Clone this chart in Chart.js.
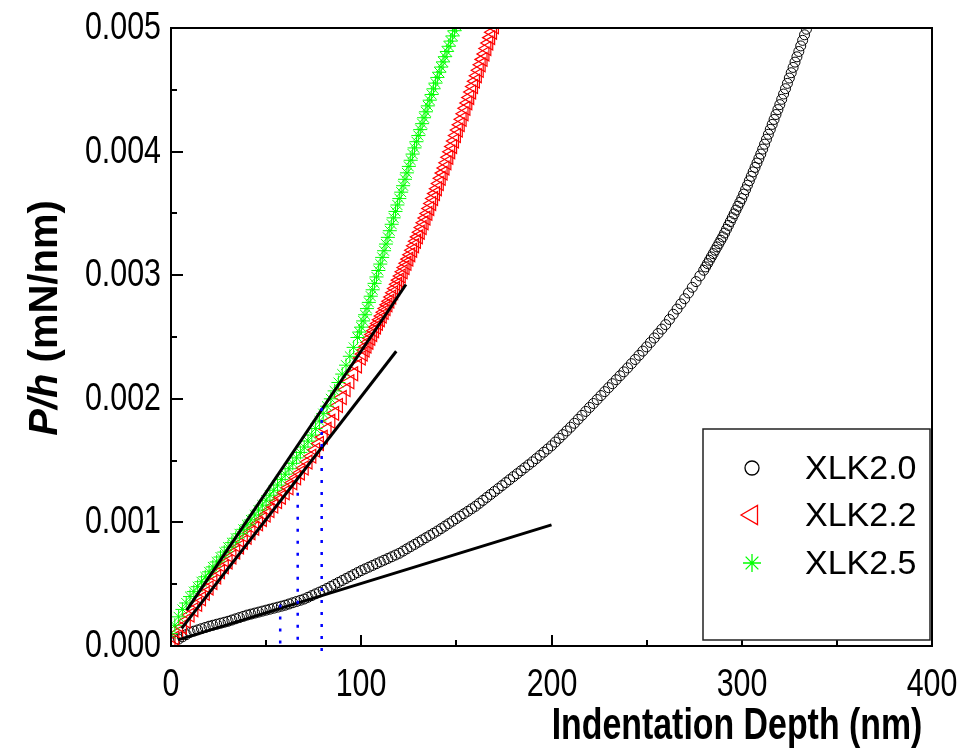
<!DOCTYPE html>
<html>
<head>
<meta charset="utf-8">
<script src="https://cdn.jsdelivr.net/npm/chart.js@4/dist/chart.umd.min.js"></script>
<style>
html,body{margin:0;padding:0;background:#fff;}
#wrap{width:965px;height:753px;position:relative;}
canvas{display:block;}
</style>
</head>
<body>
<div id="wrap"><canvas id="c" width="965" height="753"></canvas></div>
<script>
// ---------------- DATA ----------------
const seriesLabels = ['XLK2.0', 'XLK2.2', 'XLK2.5'];

// XLK2.0 : indentation depth (nm) and P/h (mN/nm)
const depthXLK20 = [2,4,6,8,10,12,14,16,18,20,22,24,26,28,30,32,34,36,38,40,42,44,46,48,50,52,54,56,58,60,62,64,66,68,70,72,74,76,78,80,82,84,86,88,90,92,94,96,98,100,102,104,106,108,110,112,114,116,118,120,122,124,126,128,130,132,134,136,138,140,142,144,146,148,150,152,154,156,158,160,162,164,166,168,170,172,174,176,178,180,182,184,186,188,190,192,194,196,198,200,202,204,206,208,210,212,214,216,218,220,222,224,226,228,230,232,234,236,238,240,242,244,246,248,250,252,254,256,258,260,262,264,266,268,270,272,274,276,278,280,281,282,283,284,285,286,287,288,289,290,291,292,293,294,295,296,297,298,299,300,301,302,303,304,305,306,307,308,309,310,311,312,313,314,315,316,317,318,319,320,321,322,323,324,325,326,327,328,329,330,331,332,333,334];
const phXLK20 = [0.000038,0.000056,0.000074,0.000092,0.000110,0.000120,0.000130,0.000140,0.000150,0.000160,0.000168,0.000176,0.000184,0.000192,0.000200,0.000210,0.000220,0.000230,0.000240,0.000250,0.000258,0.000266,0.000274,0.000282,0.000290,0.000298,0.000306,0.000314,0.000322,0.000330,0.000340,0.000350,0.000360,0.000370,0.000380,0.000394,0.000408,0.000422,0.000436,0.000450,0.000466,0.000482,0.000498,0.000514,0.000530,0.000546,0.000562,0.000578,0.000594,0.000610,0.000624,0.000638,0.000652,0.000666,0.000680,0.000694,0.000708,0.000722,0.000736,0.000750,0.000768,0.000786,0.000804,0.000822,0.000840,0.000858,0.000876,0.000894,0.000912,0.000930,0.000950,0.000970,0.000990,0.001010,0.001030,0.001050,0.001070,0.001090,0.001110,0.001130,0.001154,0.001178,0.001202,0.001226,0.001250,0.001274,0.001298,0.001322,0.001346,0.001370,0.001394,0.001418,0.001442,0.001466,0.001490,0.001516,0.001542,0.001568,0.001594,0.001620,0.001650,0.001680,0.001710,0.001740,0.001770,0.001802,0.001834,0.001866,0.001898,0.001930,0.001962,0.001994,0.002026,0.002058,0.002090,0.002122,0.002154,0.002186,0.002218,0.002250,0.002284,0.002318,0.002352,0.002386,0.002420,0.002456,0.002492,0.002528,0.002564,0.002600,0.002642,0.002684,0.002726,0.002768,0.002810,0.002856,0.002902,0.002948,0.002994,0.003040,0.003067,0.003094,0.003121,0.003148,0.003175,0.003202,0.003229,0.003256,0.003283,0.003310,0.003341,0.003372,0.003403,0.003434,0.003465,0.003496,0.003527,0.003558,0.003589,0.003620,0.003656,0.003692,0.003728,0.003764,0.003800,0.003836,0.003872,0.003908,0.003944,0.003980,0.004020,0.004060,0.004100,0.004140,0.004180,0.004220,0.004260,0.004300,0.004340,0.004380,0.004423,0.004466,0.004509,0.004552,0.004595,0.004638,0.004681,0.004724,0.004767,0.004810,0.004855,0.004900,0.004945,0.004990];

// XLK2.2
const depthXLK22 = [0,2,4,6,8,10,12,14,16,18,20,22,24,26,28,30,32,34,36,38,40,42,44,46,48,50,52,54,56,58,60,62,64,66,68,70,72,74,76,78,80,82,84,86,88,90,92,94,96,98,100,101,102,103,104,105,106,107,108,109,110,111,112,113,114,115,116,117,118,119,120,121,122,123,124,125,126,127,128,129,130,131,132,133,134,135,136,137,138,139,140,141,142,143,144,145,146,147,148,149,150,151,152,153,154,155,156,157,158,159,160,161,162,163,164,165,166,167,168,169,170];
const phXLK22 = [0.000020,0.000064,0.000108,0.000154,0.000202,0.000250,0.000294,0.000338,0.000382,0.000426,0.000470,0.000514,0.000558,0.000600,0.000640,0.000680,0.000720,0.000760,0.000800,0.000840,0.000880,0.000916,0.000952,0.000988,0.001024,0.001060,0.001096,0.001132,0.001168,0.001204,0.001240,0.001280,0.001320,0.001360,0.001400,0.001440,0.001488,0.001536,0.001586,0.001638,0.001690,0.001754,0.001818,0.001882,0.001946,0.002010,0.002074,0.002138,0.002202,0.002266,0.002330,0.002362,0.002394,0.002426,0.002458,0.002490,0.002520,0.002550,0.002580,0.002610,0.002640,0.002670,0.002700,0.002730,0.002760,0.002790,0.002824,0.002858,0.002892,0.002926,0.002960,0.002994,0.003028,0.003062,0.003096,0.003130,0.003166,0.003202,0.003238,0.003274,0.003310,0.003348,0.003386,0.003424,0.003462,0.003500,0.003540,0.003580,0.003620,0.003660,0.003700,0.003742,0.003784,0.003826,0.003868,0.003910,0.003954,0.003998,0.004042,0.004086,0.004130,0.004174,0.004218,0.004262,0.004306,0.004350,0.004394,0.004438,0.004482,0.004526,0.004570,0.004614,0.004658,0.004702,0.004746,0.004790,0.004834,0.004878,0.004922,0.004966,0.005010];

// XLK2.5
const depthXLK25 = [0,2,4,6,8,10,12,14,16,18,20,22,24,26,28,30,32,34,36,38,40,42,44,46,48,50,52,54,56,58,60,62,64,66,68,70,72,74,76,78,80,82,84,86,88,90,92,94,96,98,99,100,101,102,103,104,105,106,107,108,109,110,111,112,113,114,115,116,117,118,119,120,121,122,123,124,125,126,127,128,129,130,131,132,133,134,135,136,137,138,139,140,141,142,143,144,145,146,147,148,149,150];
const phXLK25 = [0.000100,0.000168,0.000236,0.000296,0.000348,0.000400,0.000440,0.000480,0.000520,0.000560,0.000600,0.000640,0.000680,0.000720,0.000760,0.000800,0.000836,0.000872,0.000908,0.000944,0.000980,0.001020,0.001060,0.001100,0.001140,0.001180,0.001220,0.001260,0.001302,0.001346,0.001390,0.001434,0.001478,0.001522,0.001566,0.001610,0.001658,0.001706,0.001760,0.001820,0.001880,0.001940,0.002000,0.002064,0.002132,0.002200,0.002272,0.002344,0.002416,0.002496,0.002540,0.002580,0.002630,0.002680,0.002730,0.002780,0.002830,0.002882,0.002934,0.002986,0.003038,0.003090,0.003144,0.003198,0.003252,0.003306,0.003360,0.003412,0.003464,0.003516,0.003568,0.003620,0.003672,0.003724,0.003776,0.003828,0.003880,0.003930,0.003980,0.004030,0.004080,0.004130,0.004178,0.004226,0.004274,0.004322,0.004370,0.004416,0.004462,0.004508,0.004554,0.004600,0.004642,0.004684,0.004726,0.004768,0.004810,0.004852,0.004894,0.004936,0.004978,0.005020];

// straight fit lines (end points)
const fitDepthXLK25 = [8.3, 123.5];
const fitPhXLK25 = [0.000290, 0.002925];
const fitDepthXLK22 = [5.6, 118.4];
const fitPhXLK22 = [0.000143, 0.002385];
const fitDepthXLK20 = [3.7, 200];
const fitPhXLK20 = [0.000050, 0.000980];

// dotted vertical markers
const markerDepths = [57.4, 66.6, 79.2];
const markerTop = [0.00036, 0.00130, 0.00195];
const markerBottom = [0.00002, 0.00005, -0.00004];

// axes
const xTickLabels = ['0', '100', '200', '300', '400'];
const yTickLabels = ['0.000', '0.001', '0.002', '0.003', '0.004', '0.005'];
const xTitle = 'Indentation Depth (nm)';
const yTitleItalic = 'P/h';
const yTitleRest = ' (mN/nm)';

// ---------------- CHART ----------------
const SANS = "'Liberation Sans', Arial, Helvetica, sans-serif";
const NARROW_X = 0.8;   // horizontal squeeze of the axis lettering in the reference

const pts = (xs, ys) => xs.map((v, i) => ({x: v, y: ys[i]}));

const datasets = [
  {label: seriesLabels[0], data: pts(depthXLK20, phXLK20), pointStyle: 'circle', pointRadius: 5,
   borderColor: '#000000', backgroundColor: 'rgba(255,255,255,0)', pointBorderWidth: 1, showLine: false, order: 5},
  {label: seriesLabels[1], data: pts(depthXLK22, phXLK22), pointStyle: 'triangle', pointRotation: -90, pointRadius: 8,
   borderColor: '#ff0000', backgroundColor: 'rgba(255,255,255,0)', pointBorderWidth: 1.2, showLine: false, order: 4},
  {label: seriesLabels[2], data: pts(depthXLK25, phXLK25), pointStyle: 'star', pointRadius: 7,
   borderColor: '#00ff00', backgroundColor: '#00ff00', pointBorderWidth: 1, showLine: false, order: 3},
  {label: 'fit25', data: pts(fitDepthXLK25, fitPhXLK25), showLine: true, pointRadius: 0, borderColor: '#000', borderWidth: 3, order: 1},
  {label: 'fit22', data: pts(fitDepthXLK22, fitPhXLK22), showLine: true, pointRadius: 0, borderColor: '#000', borderWidth: 3, order: 1},
  {label: 'fit20', data: pts(fitDepthXLK20, fitPhXLK20), showLine: true, pointRadius: 0, borderColor: '#000', borderWidth: 3, order: 1}
];
markerDepths.forEach((d, i) => {
  datasets.push({label: 'hc' + i, data: [{x: d, y: markerBottom[i]}, {x: d, y: markerTop[i]}], showLine: true,
    pointRadius: 0, borderColor: '#0000ff', borderWidth: 2.5, borderDash: [3, 9], clip: false, order: 0});
});

function isMajor(v, step) { return Math.abs(v / step - Math.round(v / step)) < 1e-6; }

function squeezedText(ctx, text, x, y, align) {
  ctx.save();
  ctx.translate(x, y);
  ctx.scale(NARROW_X, 1);
  ctx.textAlign = align;
  ctx.fillText(text, 0, 0);
  ctx.restore();
}

const framePlugin = {
  id: 'frame',
  afterDraw(chart) {
    const {ctx, chartArea: {left, right, top, bottom}, scales: {x, y}} = chart;
    ctx.save();
    ctx.strokeStyle = '#000';
    ctx.lineWidth = 2;
    ctx.strokeRect(left, top, right - left, bottom - top);

    // inward ticks + tick labels, positioned by the chart's own scales
    ctx.fillStyle = '#000';
    ctx.font = '38px ' + SANS;
    ctx.textBaseline = 'middle';
    x.ticks.forEach(t => {
      const px = Math.round(x.getPixelForValue(t.value));
      const major = isMajor(t.value, 100);
      ctx.beginPath(); ctx.moveTo(px, bottom); ctx.lineTo(px, bottom - (major ? 11 : 6)); ctx.stroke();
      if (major) squeezedText(ctx, xTickLabels[Math.round(t.value / 100)], px, bottom + 40, 'center');
    });
    y.ticks.forEach(t => {
      const py = Math.round(y.getPixelForValue(t.value));
      const major = isMajor(t.value, 0.001);
      ctx.beginPath(); ctx.moveTo(left, py); ctx.lineTo(left + (major ? 12 : 6), py); ctx.stroke();
      if (major) squeezedText(ctx, yTickLabels[Math.round(t.value / 0.001)], left - 10, py + 1, 'right');
    });

    // legend
    const lx = 703, ly = 429, lw = 227, lh = 211;
    ctx.fillStyle = '#fff';
    ctx.fillRect(lx, ly, lw, lh);
    ctx.lineWidth = 1.5;
    ctx.strokeStyle = '#222';
    ctx.strokeRect(lx, ly, lw, lh);
    const rows = [468, 515, 563];
    const symR = [7, 11, 9];
    chart.data.datasets.slice(0, 3).forEach((ds, i) => {
      const opts = {pointStyle: ds.pointStyle, radius: symR[i], rotation: ds.pointRotation || 0, borderWidth: 1.3};
      ctx.save();
      ctx.strokeStyle = ds.borderColor;
      ctx.fillStyle = 'rgba(255,255,255,0)';
      ctx.lineWidth = 1.3;
      Chart.helpers.drawPoint(ctx, opts, 752, rows[i]);
      ctx.restore();
      ctx.fillStyle = '#000';
      ctx.font = '34px ' + SANS;
      ctx.textAlign = 'left';
      ctx.textBaseline = 'middle';
      ctx.fillText(ds.label, 805, rows[i] + 2);
    });

    // axis titles
    ctx.fillStyle = '#000';
    ctx.font = 'bold 44px ' + SANS;
    ctx.textBaseline = 'middle';
    ctx.save();
    ctx.translate(737, 727);
    ctx.scale(0.77, 1);
    ctx.textAlign = 'center';
    ctx.fillText(xTitle, 0, 0);
    ctx.restore();

    ctx.save();
    ctx.translate(46, 318);
    ctx.rotate(-Math.PI / 2);
    const f1 = 'italic bold 40px ' + SANS, f2 = 'bold 40px ' + SANS;
    ctx.font = f1; const w1 = ctx.measureText(yTitleItalic).width;
    ctx.font = f2; const w2 = ctx.measureText(yTitleRest).width;
    const sx = -(w1 + w2) / 2;
    ctx.textAlign = 'left';
    ctx.font = f1; ctx.fillText(yTitleItalic, sx, 0);
    ctx.font = f2; ctx.fillText(yTitleRest, sx + w1, 0);
    ctx.restore();
    ctx.restore();
  }
};

new Chart(document.getElementById('c'), {
  type: 'scatter',
  data: {datasets},
  options: {
    responsive: false,
    animation: false,
    devicePixelRatio: 1,
    events: [],
    layout: {padding: {left: 0, right: 33, top: 28, bottom: 0}},
    plugins: {legend: {display: false}, tooltip: {enabled: false}},
    scales: {
      x: {
        type: 'linear', min: 0, max: 400,
        grid: {display: false, drawTicks: false},
        border: {display: false},
        ticks: {stepSize: 50, autoSkip: false, maxRotation: 0, display: false},
        afterFit: s => { s.height = 107; s.paddingLeft = 0; s.paddingRight = 0; s.paddingTop = 0; s.paddingBottom = 0; }
      },
      y: {
        type: 'linear', min: 0, max: 0.005,
        grid: {display: false, drawTicks: false},
        border: {display: false},
        ticks: {stepSize: 0.0005, autoSkip: false, display: false},
        afterFit: s => { s.width = 171; s.paddingLeft = 0; s.paddingRight = 0; s.paddingTop = 0; s.paddingBottom = 0; }
      }
    }
  },
  plugins: [framePlugin]
});
</script>
</body>
</html>
